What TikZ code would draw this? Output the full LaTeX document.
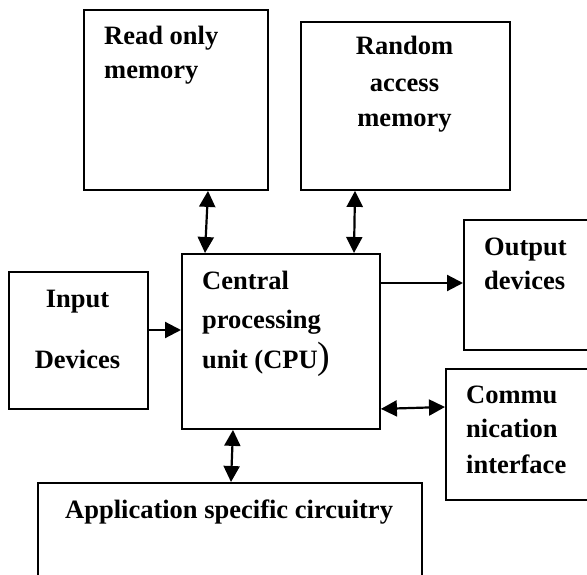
\documentclass[tikz,border=0pt]{standalone}
\usepackage{fontspec}
\setmainfont{Liberation Serif}
\usetikzlibrary{arrows.meta}
\begin{document}
\begin{tikzpicture}[x=1pt,y=-1pt,
  box/.style={draw, line width=1.9pt, rectangle, inner sep=0pt, anchor=north west},
  lbl/.style={font=\fontsize{26.5}{30}\selectfont\bfseries, inner sep=0pt},
  conn/.style={line width=2.2pt, -{Triangle[length=16pt,width=16pt]}},
  biconn/.style={line width=2.2pt, {Triangle[length=16pt,width=16pt]}-{Triangle[length=16pt,width=16pt]}}]
\useasboundingbox (0,0) rectangle (587,575);
% boxes
\node[box, minimum width=184pt, minimum height=180pt] (rom) at (83,9) {};
\node[box, minimum width=209pt, minimum height=168pt] (ram) at (300,21) {};
\node[box, minimum width=198pt, minimum height=175pt] (cpu) at (181,253) {};
\node[box, minimum width=139pt, minimum height=137pt] (inp) at (8,271) {};
\node[box, minimum width=140pt, minimum height=130pt] (out) at (463,219) {};
\node[box, minimum width=160pt, minimum height=131pt] (com) at (445,368) {};
\node[box, minimum width=384pt, minimum height=110pt] (app) at (37,482) {};
% labels
\node[lbl, anchor=base west] (t1) at (104,45) {Read only};
\node[lbl, anchor=base west] (t2) at (104,79) {memory};
\node[lbl, anchor=base] (t3) at (404.5,55) {Random};
\node[lbl, anchor=base] (t4) at (404.5,92) {access};
\node[lbl, anchor=base] (t5) at (404.5,127) {memory};
\node[lbl, anchor=base west] (t6) at (202,289) {Central};
\node[lbl, anchor=base west] (t7) at (202,328) {processing};
\node[lbl, anchor=base west] (t8) at (202,368) {unit (CPU\mbox{\fontsize{38}{40}\selectfont\mdseries)}};
\node[lbl, anchor=base] (t9) at (77.5,307) {Input};
\node[lbl, anchor=base] (t10) at (77.5,368) {Devices};
\node[lbl, anchor=base west] (t11) at (484,255) {Output};
\node[lbl, anchor=base west] (t12) at (484,290) {devices};
\node[lbl, anchor=base west] (t13) at (466,403) {Commu};
\node[lbl, anchor=base west] (t14) at (466,437) {nication};
\node[lbl, anchor=base west] (t15) at (466,473) {interface};
\node[lbl, anchor=base west] (t16) at (65,518) {Application specific circuitry};
% connectors
\draw[biconn] ([xshift=125pt]rom.south west) -- ([xshift=24pt]cpu.north west);
\draw[biconn] ([xshift=55pt]ram.south west) -- ([xshift=173pt]cpu.north west);
\draw[conn] ([yshift=-30pt]cpu.north east) -- ([yshift=-64pt]out.north west);
\draw[conn] ([yshift=-59pt]inp.north east) -- ([yshift=-77pt]cpu.north west);
\draw[biconn] ([yshift=21pt]cpu.south east) -- ([yshift=-39pt]com.north west);
\draw[biconn] ([xshift=52pt]cpu.south west) -- ([xshift=194pt]app.north west);
\end{tikzpicture}
\end{document}
